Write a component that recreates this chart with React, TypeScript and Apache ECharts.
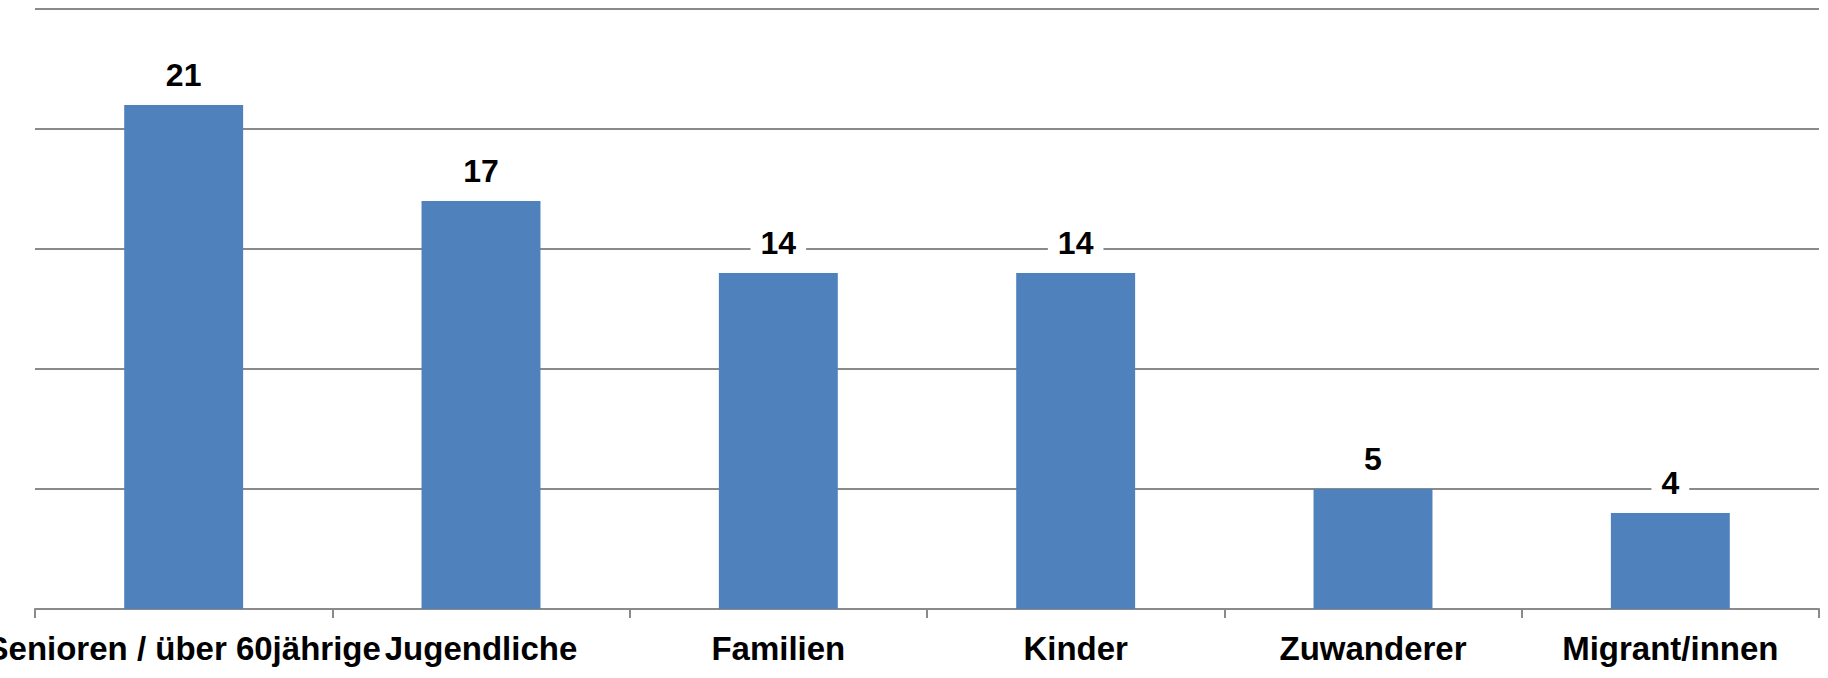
import React, { useEffect, useRef } from "react";
import * as echarts from "echarts";

const categories = [
  "Senioren / über 60jährige",
  "Jugendliche",
  "Familien",
  "Kinder",
  "Zuwanderer",
  "Migrant/innen",
];
const values = [21, 17, 14, 14, 5, 4];
const yMax = 25;
const yInterval = 5;

export default function App() {
  const ref = useRef<HTMLDivElement>(null);
  useEffect(() => {
    if (!ref.current) return;
    const chart = echarts.init(ref.current, null, { renderer: "svg" });
    const gray = "#8a8a8a";
    const font = "'Liberation Sans', Arial, Helvetica, sans-serif";
    chart.setOption({
      animation: false,
      backgroundColor: "#ffffff",
      grid: {
        left: 35,
        right: 9,
        top: 9,
        bottom: 69,
        containLabel: false,
        outerBoundsMode: "none",
      },
      xAxis: {
        type: "category",
        data: categories,
        boundaryGap: true,
        axisLine: { show: true, lineStyle: { color: gray, width: 2 } },
        axisTick: { show: true, length: 9, lineStyle: { color: gray, width: 2 } },
        axisLabel: {
          interval: 0,
          margin: 23,
          color: "#000000",
          fontFamily: font,
          fontWeight: "bold",
          fontSize: 33,
        },
      },
      yAxis: {
        type: "value",
        min: 0,
        max: yMax,
        interval: yInterval,
        axisLine: { show: false },
        axisTick: { show: false },
        axisLabel: { show: false },
        splitLine: { show: true, lineStyle: { color: gray, width: 2 } },
      },
      series: [
        {
          type: "bar",
          data: values,
          barWidth: "40%",
          itemStyle: { color: "#4F81BD" },
          label: {
            show: true,
            position: "top",
            distance: 12,
            color: "#000000",
            fontFamily: font,
            fontWeight: "bold",
            fontSize: 32,
            backgroundColor: "#ffffff",
            padding: [2, 10],
          },
        },
      ],
    });
    return () => chart.dispose();
  }, []);
  return (
    <div
      ref={ref}
      style={{ position: "fixed", left: 0, top: 0, width: 1828, height: 678 }}
    />
  );
}
